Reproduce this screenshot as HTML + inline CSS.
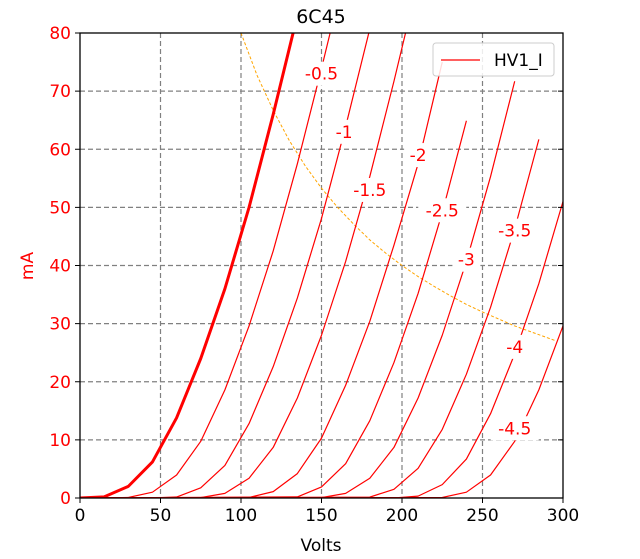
<!DOCTYPE html>
<html><head><meta charset="utf-8"><style>
body{margin:0;background:#fff;width:640px;height:559px;overflow:hidden}
svg{display:block}
text{font-family:"DejaVu Sans","Liberation Sans",sans-serif}
</style></head><body>
<svg id="chart" width="640" height="559" viewBox="0 0 640 559" xmlns="http://www.w3.org/2000/svg">
<text x="321" y="23" font-size="19" text-anchor="middle">6C45</text>
<g id="grid"></g>
<g id="curves"></g>
<g id="labels"></g>
<g id="axes"></g>
<text x="321" y="551" font-size="17" text-anchor="middle">Volts</text>
<text x="33" y="266" font-size="17" fill="red" text-anchor="middle" transform="rotate(-90 33 266)">mA</text>
<g>
<rect x="433" y="43" width="121" height="33" rx="3" fill="#fff" fill-opacity="0.85" stroke="#ccc"/>
<line x1="441" y1="60" x2="480" y2="60" stroke="red" stroke-width="1.3"/>
<text x="494" y="66" font-size="17">HV1_I</text>
</g>
</svg>
<script>
const xTicks=[0,50,100,150,200,250,300];
const yTicks=[0,10,20,30,40,50,60,70,80];
const biasLabels=["0","-0.5","-1","-1.5","-2","-2.5","-3","-3.5","-4","-4.5"];
const vStart=[0,0,45,75,105,135,150,180,195,225];
const curve0=[0,0.2,2,6.2,13.8,24,36,50,66,83];
const curve05=[0,0,0.09,1.0,3.96,9.75,18.6,29.6,42.5,57.5,73.9,91];
const curve1=[0,0.17,1.76,5.6,12.8,22.6,34.4,48.1,63.9,80.7,98.6];
const curve15=[0.07,0.8,3.4,8.7,17.2,28,40.7,55.3,71.7,89];
const curve2=[0.1,1.1,4.2,10.3,19.4,30.4,43.5,57.5,75];
const curve25=[0.19,1.9,5.9,13.3,23.3,35.2,49.1,64.9];
const curve3=[0.07,0.8,3.4,8.7,17.2,28,40.7,55.3,71.7];
const curve35=[0.15,1.5,5.1,11.8,21.3,32.8,46.3,61.7];
const curve4=[0,0.32,2.3,6.7,14.5,24.8,36.9,51];
const curve45=[0.09,1.0,3.96,9.75,18.6,29.6];
const curves=[curve0,curve05,curve1,curve15,curve2,curve25,curve3,curve35,curve4,curve45];
const labelV=[0,150,164,180,210,225,240,270,270,270];
const labelI=[0,73,63,53,59,49.5,41,46,26,12];
const dissV=[100,110,120,130,140,150,160,170,180,190,200,210,220,230,240,250,260,270,280,295];
const dissI=[80,72.7,66.7,61.5,57.1,53.3,50,47.1,44.4,42.1,40,38.1,36.4,34.8,33.3,32,30.8,29.6,28.6,27.1];
const stepV=15;

const X0=80,X1=563,Y0=498,Y1=33;
const sx=v=>X0+(v/300)*(X1-X0);
const sy=i=>Y0-(i/80)*(Y0-Y1);
const NS="http://www.w3.org/2000/svg";
function mk(tag,attrs,parent){const e=document.createElementNS(NS,tag);for(const k in attrs)e.setAttribute(k,attrs[k]);parent.appendChild(e);return e;}
const grid=document.getElementById('grid'),axes=document.getElementById('axes'),cg=document.getElementById('curves'),lg=document.getElementById('labels');

xTicks.forEach(v=>{
  if(v>0&&v<300){const l=mk('line',{x1:sx(v),y1:Y1,x2:sx(v),y2:Y0,stroke:'#808080','stroke-width':1.2,'stroke-dasharray':'5,3'},grid);
  
  }
  const t=mk('line',{x1:sx(v),y1:Y0,x2:sx(v),y2:Y0+5,stroke:'#000','stroke-width':1},axes);
  
  
  const tx=mk('text',{x:sx(v),y:Y0+23,'font-size':17,'text-anchor':'middle'},axes);tx.textContent=v;
  
  
});
yTicks.forEach(i=>{
  if(i>0&&i<80){const l=mk('line',{x1:X0,y1:sy(i),x2:X1,y2:sy(i),stroke:'#808080','stroke-width':1.2,'stroke-dasharray':'5,3'},grid);
  
  }
  const t=mk('line',{x1:X0-5,y1:sy(i),x2:X0,y2:sy(i),stroke:'#000','stroke-width':1},axes);
  
  
  const t2=mk('line',{x1:X1-5,y1:sy(i),x2:X1,y2:sy(i),stroke:'#000','stroke-width':1},axes);
  
  
  const tx=mk('text',{x:X0-9,y:sy(i)+6,'font-size':17,'text-anchor':'end',fill:'red'},axes);tx.textContent=i;
  
  
});
const fr=mk('rect',{x:X0,y:Y1,width:X1-X0,height:Y0-Y1,fill:'none',stroke:'#000','stroke-width':1.3},axes);



const defs=mk('defs',{},document.getElementById('chart'));
const cp=mk('clipPath',{id:'clip'},defs);
mk('rect',{x:X0,y:Y1,width:X1-X0,height:Y0-Y1},cp);
cg.setAttribute('clip-path','url(#clip)');

let dp=dissV.map((v,k)=>sx(v)+','+sy(dissI[k])).join(' ');
const dl=mk('polyline',{points:dp,fill:'none',stroke:'orange','stroke-width':1,'stroke-dasharray':'3,2'},cg);



curves.forEach((arr,c)=>{
  const pts=arr.map((i,k)=>sx(vStart[c]+k*stepV)+','+sy(i));
  if(vStart[c]>0)pts.unshift(sx(0)+','+sy(0));
  const p=mk('polyline',{points:pts.join(' '),fill:'none',stroke:'red','stroke-width':c===0?3:1.2,'stroke-linejoin':'round'},cg);
  
  
  if(c>0){
    const x=sx(labelV[c]),y=sy(labelI[c]);
    const w=biasLabels[c].length*10+8;
    const r=mk('rect',{x:x-w/2,y:y-12,width:w,height:24,fill:'#fff'},lg);
    
    
    const t=mk('text',{x:x,y:y+6,'font-size':17,fill:'red','text-anchor':'middle'},lg);
    t.textContent=biasLabels[c];
    
    
  }
});
</script>
</body></html>
